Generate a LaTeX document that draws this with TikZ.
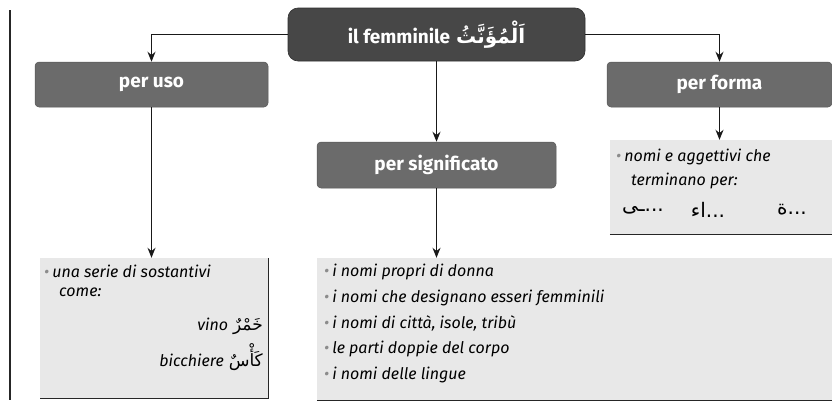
\documentclass[tikz,border=0pt]{standalone}
\usepackage{fontspec}
\setmainfont{Fira Sans}
\newfontfamily\arabicfont[Script=Arabic]{DejaVu Sans}
\TeXXeTstate=1
\usetikzlibrary{arrows.meta}
\newcommand\bul{{\color{black!45}\textbullet}\hspace{3pt}}
\begin{document}
\begin{tikzpicture}[x=1pt,y=-1pt,
  darkbox/.style={fill=black!72,draw=black!82,line width=0.6pt,rounded corners=10pt,inner sep=0pt,text=white,font=\fontsize{19}{22}\selectfont\bfseries},
  catbox/.style={fill=black!58,draw=black!66,line width=0.5pt,rounded corners=4pt,inner sep=0pt,text=white,font=\fontsize{19}{22}\selectfont\bfseries},
  lightbox/.style={fill=black!9,draw=none,inner sep=0pt},
  shadowline/.style={draw=black!85,line width=1.3pt},
  conn/.style={draw=black!90,line width=1.3pt,-{Stealth[length=10pt,width=8pt]}},
  body/.style={inner sep=0pt,anchor=west,font=\fontsize{16}{19}\selectfont\itshape},
  ar/.style={inner sep=0pt,font=\arabicfont\fontsize{20}{24}\selectfont}
]
\useasboundingbox (0,0) rectangle (832,402);
\coordinate (vtop) at (10,10);
\coordinate (vbot) at (10,400);
\draw[line width=1.5pt,black!85] (vtop) -- (vbot);

\node[darkbox,minimum width=297pt,minimum height=53pt] (title) at (436.5,34.5)
  {il femminile\hspace{6pt}{\arabicfont\bfseries\fontsize{20}{22}\selectfont\beginR اَلْمُؤَنَّثُ\endR}};
\node[catbox,minimum width=233pt,minimum height=45pt] (peruso) at (151.5,84.5) {per uso};
\node[catbox,minimum width=225pt,minimum height=45pt] (performa) at (719.5,84.5) {per forma};
\node[catbox,minimum width=239pt,minimum height=46pt] (persig) at (436.5,165) {per significato};

\node[lightbox,minimum width=222pt,minimum height=94pt] (lr) at (721,187) {};
\node[lightbox,minimum width=228pt,minimum height=140pt] (ll) at (154,328) {};
\node[lightbox,minimum width=515pt,minimum height=142pt] (lm) at (574.5,329) {};
\draw[shadowline] (lr.south west) -- (lr.south east);
\draw[shadowline] (ll.north east) -- (ll.south east) -- (ll.south west);
\draw[shadowline] (lm.south west) -- (lm.south east);

\draw[conn] (title.west) -| (peruso.north);
\draw[conn] (title.east) -| (performa.north);
\draw[conn] (title.south) -- (persig.north);
\draw[conn] (peruso.south) -- (peruso.south |- ll.north);
\draw[conn] (persig.south) -- (persig.south |- lm.north);
\draw[conn] (performa.south) -- (performa.south |- lr.north);

% per forma box text
\node[body] (f1) at (616,157) {\bul nomi e aggettivi che};
\node[body] (f2) at (631,181) {terminano per:};
\node[ar] (f3) at (643,210) {\beginR ...ـى\endR};
\node[ar] (f4) at (708,210) {\beginR ...اء\endR};
\node[ar] (f5) at (792,210) {\beginR ...ة\endR};

% per uso box text
\node[body] (u1) at (44,271) {\bul una serie di sostantivi};
\node[body] (u2) at (59,292) {come:};
\node[body,anchor=east] (u3) at (263,326) {vino\hspace{5pt}{\upshape\arabicfont\fontsize{17}{20}\selectfont\beginR خَمْرٌ\endR}};
\node[body,anchor=east] (u4) at (263,357) {bicchiere\hspace{5pt}{\upshape\arabicfont\fontsize{17}{20}\selectfont\beginR كَأْسٌ\endR}};

% per significato box text
\node[body] (m1) at (324,272) {\bul i nomi propri di donna};
\node[body] (m2) at (324,298) {\bul i nomi che designano esseri femminili};
\node[body] (m3) at (324,323) {\bul i nomi di città, isole, tribù};
\node[body] (m4) at (324,349) {\bul le parti doppie del corpo};
\node[body] (m5) at (324,375) {\bul i nomi delle lingue};
\end{tikzpicture}
\end{document}
